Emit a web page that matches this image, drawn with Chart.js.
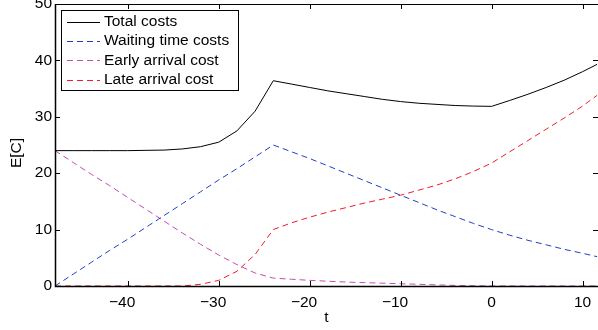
<!DOCTYPE html>
<html>
<head>
<meta charset="utf-8">
<script src="https://cdn.jsdelivr.net/npm/chart.js@4.4.1/dist/chart.umd.min.js"></script>
<style>
  html, body { margin: 0; padding: 0; background: #fff; }
  #wrap { width: 598px; height: 330px; }
</style>
</head>
<body>
<div id="wrap"><canvas id="chart"></canvas></div>
<script>
// time values (t)
var tValues = [-48,-46,-44,-42,-40,-38,-36,-34,-32,-30,-28,-26,-24,-22,-20,-18,-16,-14,-12,-10,-8,-6,-4,-2,0,2,4,6,8,10,11.6];

var totalCosts = [24.0,24.0,24.0,24.0,24.0,24.05,24.1,24.3,24.7,25.5,27.5,31.0,36.4,35.8,35.2,34.6,34.1,33.6,33.1,32.7,32.4,32.2,32.0,31.9,31.85,32.9,34.0,35.2,36.5,38.0,39.3];
var waitingCosts = [0,2.1,4.2,6.3,8.3,10.4,12.5,14.6,16.7,18.8,20.8,22.9,25.0,23.8,22.6,21.3,20.0,18.7,17.4,16.1,14.8,13.5,12.3,11.1,10.0,9.0,8.1,7.3,6.5,5.8,5.2];
var earlyCosts = [24.0,21.9,19.8,17.8,15.7,13.6,11.5,9.4,7.4,5.5,3.8,2.3,1.4,1.2,1.0,0.85,0.7,0.6,0.5,0.4,0.3,0.2,0.1,0.05,0,0,0,0,0,0,0];
var lateCosts = [0,0,0,0,0,0,0,0,0.3,1.0,2.6,5.6,10.0,11.2,12.2,13.1,13.9,14.7,15.4,16.1,17.0,17.9,19.0,20.3,21.8,23.8,25.8,27.8,29.8,31.9,33.8];

var seriesNames = ['Total costs', 'Waiting time costs', 'Early arrival cost', 'Late arrival cost'];
var seriesColors = ['#000000', '#2040c0', '#c848b4', '#f01c28'];
var xTickValues = [-40, -30, -20, -10, 0, 10];
var yTickValues = [0, 10, 20, 30, 40, 50];

var FONT = '"Liberation Sans", Arial, Helvetica, sans-serif';
var FSIZE = 15.5;

function toPoints(values){
    var pts = [];
    for(var i = 0; i < tValues.length; i++){
        pts.push({x: tValues[i], y: values[i]});
    }
    return pts;
}

function makeSet(idx, values, dashed){
    return {
        label: seriesNames[idx],
        data: toPoints(values),
        borderColor: seriesColors[idx],
        borderWidth: 1,
        borderDash: dashed ? [6, 4] : [],
        pointRadius: 0,
        tension: 0,
        fill: false
    };
}

// matlab hangs the minus sign, so pad negative labels on the right
function tickLabel(v){
    if(v < 0){
        return '\u2212' + String(-v) + '\u2007\u2006';
    }
    return String(v);
}

// box, inward ticks, y title and legend, matlab style
var matlabFrame = {
    id: 'matlabFrame',
    afterDraw: function(chart){
        var ctx = chart.ctx;
        var a = chart.chartArea;
        var xs = chart.scales.x, ys = chart.scales.y;
        var tl = 5;
        ctx.save();
        ctx.strokeStyle = '#000';
        ctx.lineWidth = 1;
        ctx.beginPath();
        ctx.rect(a.left + 0.5, a.top + 0.5, a.right - a.left, a.bottom - a.top);
        ctx.stroke();
        ctx.lineWidth = 1.5;
        ctx.beginPath();
        ctx.moveTo(a.left + 0.5, a.top);
        ctx.lineTo(a.left + 0.5, a.bottom + 0.5);
        ctx.lineTo(a.right, a.bottom + 0.5);
        ctx.stroke();
        ctx.lineWidth = 1;
        ctx.beginPath();
        xs.ticks.forEach(function(t){
            var px = Math.round(xs.getPixelForValue(t.value)) + 0.5;
            ctx.moveTo(px, a.bottom); ctx.lineTo(px, a.bottom - tl);
            ctx.moveTo(px, a.top); ctx.lineTo(px, a.top + tl);
        });
        ys.ticks.forEach(function(t){
            var py = Math.round(ys.getPixelForValue(t.value)) + 0.5;
            ctx.moveTo(a.left, py); ctx.lineTo(a.left + tl, py);
            ctx.moveTo(a.right, py); ctx.lineTo(a.right - tl, py);
        });
        ctx.stroke();

        ctx.fillStyle = '#000';
        ctx.font = FSIZE + 'px ' + FONT;
        ctx.textBaseline = 'middle';
        ctx.textAlign = 'center';
        ctx.save();
        ctx.translate(16.5, 153);
        ctx.rotate(-Math.PI / 2);
        ctx.fillText('E[C]', 0, 0);
        ctx.restore();

        // legend
        var lx = 61, ly = 10, lw = 177, lh = 80;
        ctx.fillStyle = '#fff';
        ctx.fillRect(lx, ly, lw, lh);
        ctx.strokeStyle = '#000';
        ctx.lineWidth = 1;
        ctx.strokeRect(lx + 0.5, ly + 0.5, lw, lh);
        ctx.textAlign = 'left';
        chart.data.datasets.forEach(function(ds, i){
            var y = 21.7 + i * 19.3;
            ctx.strokeStyle = seriesColors[i];
            ctx.setLineDash(i === 0 ? [] : [6, 4]);
            ctx.beginPath();
            ctx.moveTo(67, Math.round(y) + 0.5);
            ctx.lineTo(100, Math.round(y) + 0.5);
            ctx.stroke();
            ctx.setLineDash([]);
            ctx.fillStyle = '#000';
            ctx.fillText(ds.label, 104, y);
        });
        ctx.restore();
    }
};

var ctx = document.getElementById('chart').getContext('2d');
var chart = new Chart(ctx, {
    type: 'line',
    data: {
        datasets: [
            makeSet(0, totalCosts, false),
            makeSet(1, waitingCosts, true),
            makeSet(2, earlyCosts, true),
            makeSet(3, lateCosts, true)
        ]
    },
    options: {
        responsive: true,
        maintainAspectRatio: false,
        animation: false,
        layout: { padding: { top: 4, right: -1, left: 0, bottom: 0 } },
        plugins: {
            legend: { display: false },
            tooltip: { enabled: false }
        },
        scales: {
            x: {
                type: 'linear',
                min: -48,
                max: 11.7,
                afterBuildTicks: function(scale){
                    scale.ticks = xTickValues.map(function(v){ return {value: v}; });
                },
                afterFit: function(scale){
                    scale.height = 44;
                    scale.paddingLeft = 0;
                    scale.paddingRight = 0;
                },
                grid: { display: false, drawTicks: false },
                border: { display: false },
                ticks: {
                    color: '#000',
                    padding: 7,
                    maxRotation: 0,
                    autoSkip: false,
                    font: { family: FONT, size: FSIZE },
                    callback: function(v){ return tickLabel(v); }
                },
                title: {
                    display: true,
                    text: 't',
                    color: '#000',
                    padding: { top: 0, bottom: 3 },
                    font: { family: FONT, size: FSIZE }
                }
            },
            y: {
                min: 0,
                max: 50,
                afterBuildTicks: function(scale){
                    scale.ticks = yTickValues.map(function(v){ return {value: v}; });
                },
                afterFit: function(scale){
                    scale.width = 55;
                    scale.paddingTop = 0;
                    scale.paddingBottom = 0;
                },
                grid: { display: false, drawTicks: false },
                border: { display: false },
                ticks: {
                    color: '#000',
                    padding: 3,
                    font: { family: FONT, size: FSIZE }
                }
            }
        }
    },
    plugins: [matlabFrame]
});
</script>
</body>
</html>
